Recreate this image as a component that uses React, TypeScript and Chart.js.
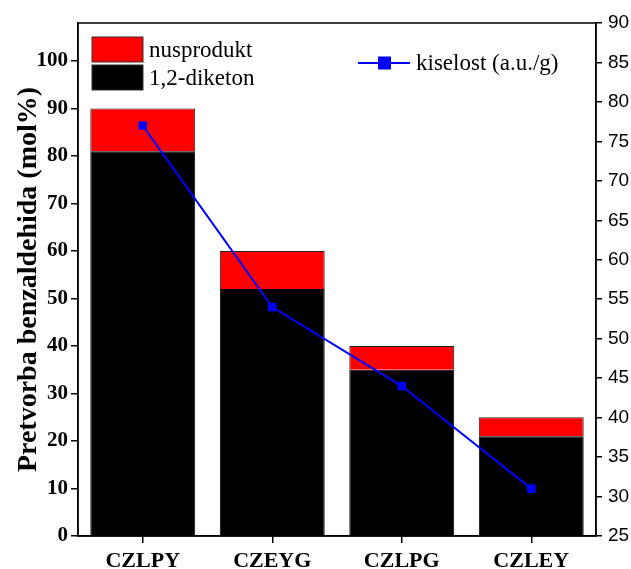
import React, { useEffect, useRef } from "react";
import { Chart, registerables } from "chart.js";

Chart.register(...registerables);

const categories = ["CZLPY", "CZEYG", "CZLPG", "CZLEY"];
const diketon = [81, 52, 35, 21];
const nusprodukt = [9, 8, 5, 4];
const kiselost = [77, 54, 44, 31];
const leftTicks = [0, 10, 20, 30, 40, 50, 60, 70, 80, 90, 100];
const rightTicks = [25, 30, 35, 40, 45, 50, 55, 60, 65, 70, 75, 80, 85, 90];

const SERIF = "'Liberation Serif', 'Times New Roman', serif";
const SANS = "'Liberation Sans', Arial, sans-serif";

const framePlugin = {
  id: "frameAndLegend",
  afterDatasetsDraw(chart: any) {
    const { ctx, chartArea } = chart;
    ctx.save();
    ctx.strokeStyle = "#000";
    ctx.lineWidth = 1.5;
    ctx.strokeRect(chartArea.left, chartArea.top, chartArea.right - chartArea.left, chartArea.bottom - chartArea.top);

    const ds = chart.data.datasets;
    const lx = chartArea.left + 14;
    const items = [ds[1], ds[0]];
    ctx.font = `23px ${SERIF}`;
    ctx.textBaseline = "middle";
    items.forEach((d: any, i: number) => {
      const y = chartArea.top + 14 + i * 28;
      ctx.fillStyle = d.backgroundColor;
      ctx.fillRect(lx, y, 51, 25);
      ctx.strokeStyle = "#333";
      ctx.lineWidth = 1;
      ctx.strokeRect(lx, y, 51, 25);
      ctx.fillStyle = "#000";
      ctx.fillText(d.label, lx + 57, y + 14);
    });

    const l = ds[2];
    const ry = 63;
    const rx = 358;
    ctx.strokeStyle = l.borderColor;
    ctx.lineWidth = 2;
    ctx.beginPath();
    ctx.moveTo(rx, ry);
    ctx.lineTo(rx + 52, ry);
    ctx.stroke();
    ctx.fillStyle = l.backgroundColor;
    ctx.fillRect(rx + 20, ry - 6.5, 13, 13);
    ctx.fillStyle = "#000";
    ctx.fillText(l.label, rx + 58, ry + 1);
    ctx.restore();
  },
};

export default function App() {
  const ref = useRef<HTMLCanvasElement>(null);
  useEffect(() => {
    document.body.style.margin = "0";
    const chart = new Chart(ref.current!, {
      type: "bar",
      data: {
        labels: categories,
        datasets: [
          {
            type: "bar",
            label: "1,2-diketon",
            data: diketon,
            backgroundColor: "#000000",
            borderColor: "#000000",
            borderWidth: 1,
            yAxisID: "y",
            stack: "s",
            order: 1,
            barPercentage: 0.81,
            categoryPercentage: 1,
          },
          {
            type: "bar",
            label: "nusprodukt",
            data: nusprodukt,
            backgroundColor: "#ff0000",
            borderColor: "#222222",
            borderWidth: 1,
            yAxisID: "y",
            stack: "s",
            order: 1,
            barPercentage: 0.81,
            categoryPercentage: 1,
          },
          {
            type: "line",
            label: "kiselost (a.u./g)",
            data: kiselost,
            borderColor: "#0000ff",
            backgroundColor: "#0000ff",
            borderWidth: 2,
            pointStyle: "rect",
            pointRadius: 6,
            pointBorderWidth: 0,
            yAxisID: "y1",
            order: 0,
          },
        ] as any,
      },
      options: {
        animation: false,
        responsive: false,
        maintainAspectRatio: false,
        layout: { padding: { top: 23, left: 0, right: 0, bottom: 0 } },
        plugins: { legend: { display: false }, tooltip: { enabled: false } },
        scales: {
          x: {
            stacked: true,
            grid: { display: true, offset: false, drawOnChartArea: false, drawTicks: true, tickLength: 7, color: "#000", lineWidth: 1.5 },
            border: { display: true, color: "#000", width: 1.5 },
            ticks: { color: "#000", font: { family: SERIF, size: 22, weight: "bold" }, padding: 5, maxRotation: 0 },
            afterFit: (s: any) => { s.height = 33; },
          },
          y: {
            stacked: true,
            position: "left",
            min: 0,
            max: 108,
            afterBuildTicks: (s: any) => { s.ticks = leftTicks.map((v) => ({ value: v })); },
            grid: { display: true, drawOnChartArea: false, tickLength: 7, color: "#000", lineWidth: 1.5 },
            border: { display: true, color: "#000", width: 1.5 },
            ticks: { color: "#000", font: { family: SERIF, size: 21, weight: "bold" }, padding: 3 },
            title: {
              display: true,
              text: "Pretvorba benzaldehida (mol%)",
              color: "#000",
              font: { family: SERIF, size: 28, weight: "bold" },
              padding: { top: 12, bottom: 0 },
            },
            afterFit: (s: any) => { s.width = 78; },
          },
          y1: {
            position: "right",
            min: 25,
            max: 90,
            afterBuildTicks: (s: any) => { s.ticks = rightTicks.map((v) => ({ value: v })); },
            grid: { display: true, drawOnChartArea: false, tickLength: 6, color: "#000", lineWidth: 1.5 },
            border: { display: true, color: "#000", width: 1.5 },
            ticks: { color: "#000", font: { family: SANS, size: 19 }, padding: 6 },
            afterFit: (s: any) => { s.width = 35; },
          },
        },
      } as any,
      plugins: [framePlugin],
    });
    return () => chart.destroy();
  }, []);
  return <canvas ref={ref} width={631} height={569} style={{ display: "block" }} />;
}
